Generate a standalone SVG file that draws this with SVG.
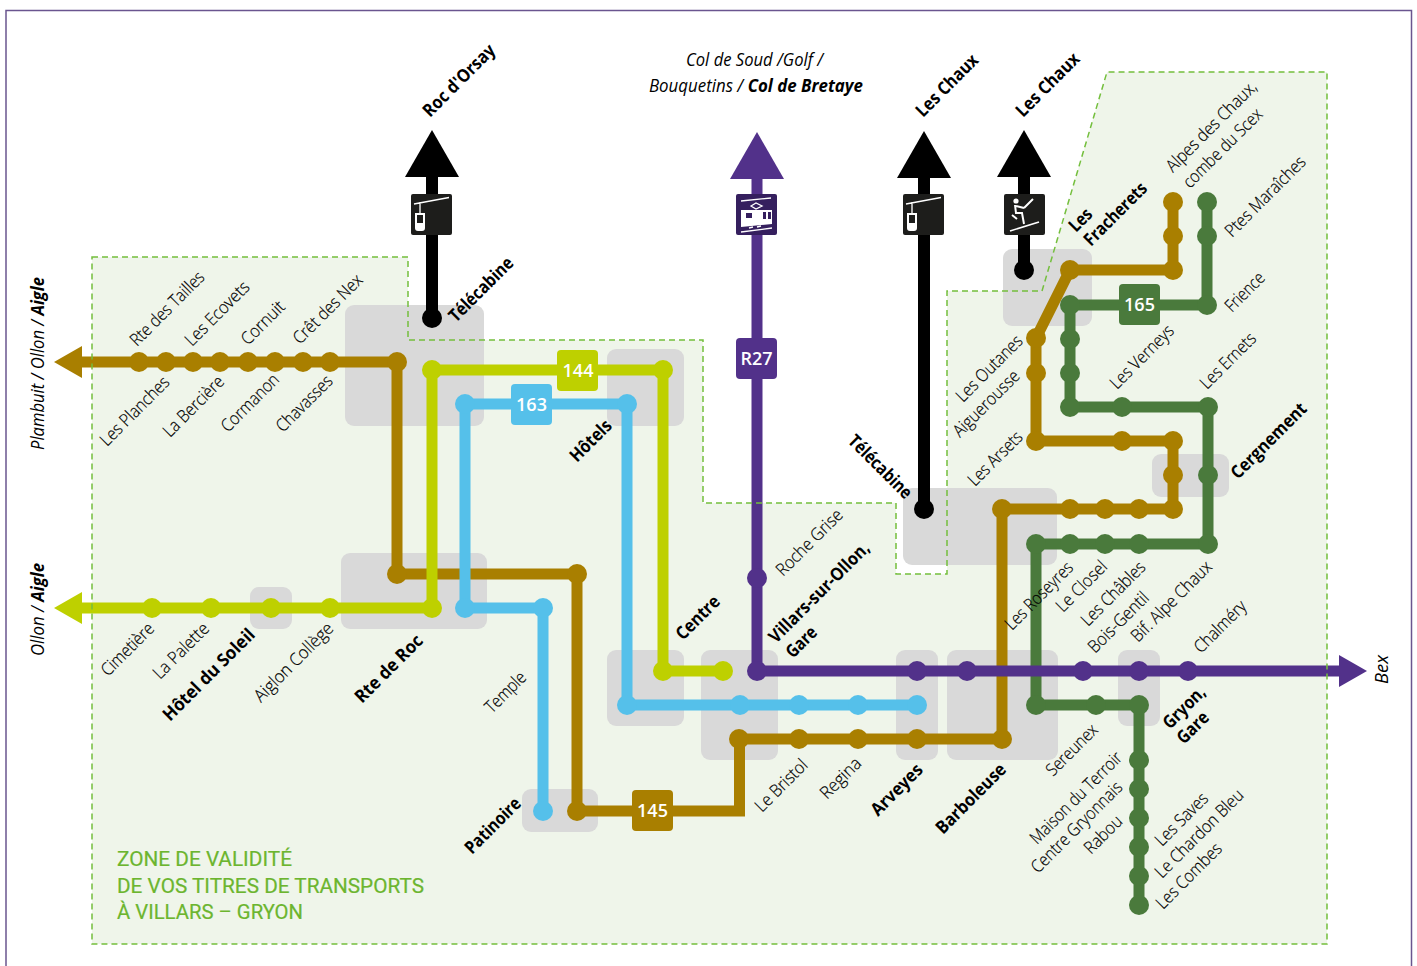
<svg xmlns="http://www.w3.org/2000/svg" width="1417" height="966" viewBox="0 0 1417 966">
<style>
text{font-family:"Open Sans","Noto Sans","Liberation Sans",sans-serif;fill:#000}
.l{font-size:17.500px;font-weight:300;stroke:#000;stroke-width:.2}
.b{font-size:18px;font-weight:700}
.i{font-size:18.500px;font-style:italic;font-weight:400}
.i tspan{font-weight:700}
.z{font-family:Roboto,"Open Sans",sans-serif;font-size:20px;fill:#6cb52f;font-weight:400;stroke:#6cb52f;stroke-width:.2}
.t{font-size:18px;font-weight:600;fill:#fff;text-anchor:middle}
.h{fill:#d9d9d9}
.ln{fill:none;stroke-width:11;stroke-linejoin:miter}
.br{stroke:#a97f00}.li{stroke:#bed000}.bl{stroke:#55c0ea}.pu{stroke:#52318a}.gr{stroke:#4a7a3c}
.bk{fill:none;stroke:#000;stroke-width:12}
circle{stroke:none}
.cb{fill:#a97f00}.cl{fill:#bed000}.cu{fill:#55c0ea}.cp{fill:#52318a}.cg{fill:#4a7a3c}.ck{fill:#000}
.w{fill:none;stroke:#fff;stroke-width:1.3}
.wf{fill:#fff}
</style>
<defs>
<marker id="a-br" viewBox="0 0 28 32" refX="0" refY="16" markerWidth="28" markerHeight="32" markerUnits="userSpaceOnUse" orient="auto"><path d="M0 0L28 16L0 32Z" fill="#a97f00"/></marker>
<marker id="a-li" viewBox="0 0 28 32" refX="0" refY="16" markerWidth="28" markerHeight="32" markerUnits="userSpaceOnUse" orient="auto"><path d="M0 0L28 16L0 32Z" fill="#bed000"/></marker>
<marker id="a-pu" viewBox="0 0 28 32" refX="0" refY="16" markerWidth="28" markerHeight="32" markerUnits="userSpaceOnUse" orient="auto"><path d="M0 0L28 16L0 32Z" fill="#52318a"/></marker>
<marker id="u-pu" viewBox="0 0 47 54" refX="0" refY="27" markerWidth="47" markerHeight="54" markerUnits="userSpaceOnUse" orient="auto"><path d="M0 0L47 27L0 54Z" fill="#52318a"/></marker>
<marker id="u-bk" viewBox="0 0 47 54" refX="0" refY="27" markerWidth="47" markerHeight="54" markerUnits="userSpaceOnUse" orient="auto"><path d="M0 0L47 27L0 54Z" fill="#000"/></marker>
<symbol id="cable" width="41" height="41" viewBox="0 0 41 41"><rect width="41" height="41" rx="2" fill="#1d1d1b"/><path class="w" d="M3 10L38 3.5M9 8V19"/><path class="wf" d="M4 19H14V34Q14 37 11 37H7Q4 37 4 34ZM6 21V29H12V21Z" fill-rule="evenodd"/></symbol>
</defs>
<rect x="6" y="10.500" width="1405.500" height="970" fill="#fff" stroke="#6a558f" stroke-width="1.500"/>
<g id="zone-fill"><path d="M92 257H408V340H703V503H896V574H947V291H1042L1107 72H1327V944H92Z" fill="#eff5ea"/></g>
<g id="hubs">
<rect class="h" x="345" y="305" width="139" height="121" rx="9"/>
<rect class="h" x="607" y="349" width="77" height="77" rx="9"/>
<rect class="h" x="341" y="553" width="146" height="76" rx="9"/>
<rect class="h" x="250" y="587" width="42" height="42" rx="9"/>
<rect class="h" x="607" y="650" width="77" height="76" rx="9"/>
<rect class="h" x="701" y="650" width="77" height="110" rx="9"/>
<rect class="h" x="896" y="650" width="42" height="110" rx="9"/>
<rect class="h" x="947" y="650" width="111" height="110" rx="9"/>
<rect class="h" x="1118" y="650" width="42" height="76" rx="9"/>
<rect class="h" x="522" y="789" width="76" height="43" rx="9"/>
<rect class="h" x="903" y="488" width="154" height="77" rx="9"/>
<rect class="h" x="1152" y="454" width="77" height="43" rx="9"/>
<rect class="h" x="1003" y="249" width="89" height="77" rx="9"/>
</g>
<g id="connectors">
<path class="ln br" d="M397 362H82" marker-end="url(#a-br)"/>
<path class="ln li" d="M432 608H82" marker-end="url(#a-li)"/>
<path class="bk" d="M432 318V177" marker-end="url(#u-bk)"/>
<path class="bk" d="M924 509V178" marker-end="url(#u-bk)"/>
<path class="bk" d="M1024 270V177" marker-end="url(#u-bk)"/>
<path class="ln br" d="M397 362V574H577V811H739.500V739H1002V509H1173V441H1036V338L1070 270H1173V202"/>
<path class="ln li" d="M432 608V370H663V671H723"/>
<path class="ln bl" d="M917 705H627V404H465V608H543V811"/>
<path class="ln gr" d="M1207 202V305H1070V407H1208V544H1036V705H1139V905"/>
<path class="ln pu" d="M757 671V179" marker-end="url(#u-pu)"/>
<path class="ln pu" d="M757 671H1339" marker-end="url(#a-pu)"/>
</g>
<g id="zone-outline"><path d="M92 257H408V340H703V503H896V574H947V291H1042L1107 72H1327V944H92Z" fill="none" stroke="#74bf3d" stroke-width="1.500" stroke-dasharray="6 4"/></g>
<g id="badges">
<g id="badge-144"><rect x="557" y="350" width="41" height="41" rx="4" fill="#bed000"/><text class="t" x="578" y="377">144</text></g>
<g id="badge-163"><rect x="511" y="384" width="41" height="41" rx="4" fill="#55c0ea"/><text class="t" x="531.500" y="411">163</text></g>
<g id="badge-145"><rect x="632" y="790" width="41" height="41" rx="4" fill="#a97f00"/><text class="t" x="652.500" y="817">145</text></g>
<g id="badge-165"><rect x="1119" y="284" width="41" height="41" rx="4" fill="#4a7a3c"/><text class="t" x="1139.500" y="311">165</text></g>
<g id="badge-R27"><rect x="736" y="338" width="41" height="41" rx="4" fill="#52318a"/><text class="t" x="756.500" y="365">R27</text></g>
<g id="icon-telecabine-1"><use href="#cable" x="411" y="194"/></g>
<g id="icon-telecabine-2"><use href="#cable" x="903" y="194"/></g>
<g id="icon-train"><rect x="736" y="194" width="41" height="41" rx="2" fill="#351f5e"/><path class="w" d="M741 201L771 198M751 206L756 203L762 206L756 209ZM741 232L772 228M749 228L753 227M757 227L761 226"/><path class="wf" d="M741 210H772V224L741 227ZM746 213V218H752V213ZM763 212V219H766V212ZM768 212V219H771V212Z" fill-rule="evenodd"/></g>
<g id="icon-ski"><rect x="1004" y="194" width="41" height="41" rx="2" fill="#1d1d1b"/><circle cx="1016" cy="201" r="2.600" fill="#fff"/><path d="M1015 205L1016 213L1022 213L1024 224M1016 206L1024 208M1024 208L1033 199M1012 215L1017 219" fill="none" stroke="#fff" stroke-width="2"/><path d="M1010 231L1039 222" fill="none" stroke="#fff" stroke-width="1.600"/></g>
</g>
<g id="stops-line-brown" class="cb">
<circle cx="139" cy="362" r="10"/><circle cx="166" cy="362" r="10"/><circle cx="193" cy="362" r="10"/><circle cx="220" cy="362" r="10"/><circle cx="248" cy="362" r="10"/><circle cx="275" cy="362" r="10"/><circle cx="303" cy="362" r="10"/><circle cx="330" cy="362" r="10"/>
<circle cx="397" cy="362" r="10"/><circle cx="397" cy="574" r="10"/><circle cx="577" cy="574" r="10"/><circle cx="577" cy="811" r="10"/><circle cx="739" cy="739" r="10"/><circle cx="799" cy="739" r="10"/><circle cx="858" cy="739" r="10"/><circle cx="917" cy="739" r="10"/><circle cx="1002" cy="739" r="10"/><circle cx="1002" cy="509" r="10"/><circle cx="1070" cy="509" r="10"/><circle cx="1105" cy="509" r="10"/><circle cx="1139" cy="509" r="10"/><circle cx="1173" cy="509" r="10"/><circle cx="1173" cy="475" r="10"/><circle cx="1173" cy="441" r="10"/><circle cx="1122" cy="441" r="10"/><circle cx="1036" cy="441" r="10"/><circle cx="1036" cy="373" r="10"/><circle cx="1036" cy="338" r="10"/><circle cx="1070" cy="270" r="10"/><circle cx="1173" cy="270" r="10"/><circle cx="1173" cy="236" r="10"/><circle cx="1173" cy="202" r="10"/>
</g>
<g id="stops-line-lime" class="cl">
<circle cx="152" cy="608" r="10"/><circle cx="211" cy="608" r="10"/><circle cx="271" cy="608" r="10"/><circle cx="330" cy="608" r="10"/><circle cx="432" cy="608" r="10"/><circle cx="432" cy="370" r="10"/><circle cx="663" cy="370" r="10"/><circle cx="663" cy="671" r="10"/><circle cx="723" cy="671" r="10"/>
</g>
<g id="stops-line-blue" class="cu">
<circle cx="465" cy="404" r="10"/><circle cx="627" cy="404" r="10"/><circle cx="627" cy="705" r="10"/><circle cx="740" cy="705" r="10"/><circle cx="799" cy="705" r="10"/><circle cx="858" cy="705" r="10"/><circle cx="917" cy="705" r="10"/><circle cx="465" cy="608" r="10"/><circle cx="543" cy="608" r="10"/><circle cx="543" cy="811" r="10"/>
</g>
<g id="stops-line-green" class="cg">
<circle cx="1207" cy="202" r="10"/><circle cx="1207" cy="236" r="10"/><circle cx="1207" cy="305" r="10"/><circle cx="1070" cy="305" r="10"/><circle cx="1070" cy="339" r="10"/><circle cx="1070" cy="373" r="10"/><circle cx="1070" cy="407" r="10"/><circle cx="1122" cy="407" r="10"/><circle cx="1208" cy="407" r="10"/><circle cx="1208" cy="475" r="10"/><circle cx="1208" cy="544" r="10"/><circle cx="1139" cy="544" r="10"/><circle cx="1105" cy="544" r="10"/><circle cx="1070" cy="544" r="10"/><circle cx="1036" cy="544" r="10"/><circle cx="1036" cy="705" r="10"/><circle cx="1096" cy="705" r="10"/><circle cx="1139" cy="705" r="10"/><circle cx="1139" cy="760" r="10"/><circle cx="1139" cy="789" r="10"/><circle cx="1139" cy="818" r="10"/><circle cx="1139" cy="847" r="10"/><circle cx="1139" cy="876" r="10"/><circle cx="1139" cy="905" r="10"/>
</g>
<g id="stops-line-purple" class="cp">
<circle cx="757" cy="578" r="10"/><circle cx="757" cy="671" r="10"/><circle cx="917" cy="671" r="10"/><circle cx="967" cy="671" r="10"/><circle cx="1083" cy="671" r="10"/><circle cx="1139" cy="671" r="10"/><circle cx="1188" cy="671" r="10"/>
</g>
<g id="stops-line-black" class="ck">
<circle cx="432" cy="318" r="10"/><circle cx="924" cy="509" r="10"/><circle cx="1024" cy="270" r="10"/>
</g>
<g id="labels">
<text class="l" lengthAdjust="spacingAndGlyphs" textLength="97" transform="translate(137 347) rotate(-45)">Rte des Tailles</text>
<text class="l" lengthAdjust="spacingAndGlyphs" textLength="83" transform="translate(192 347) rotate(-45)">Les Ecovets</text>
<text class="l" lengthAdjust="spacingAndGlyphs" textLength="54" transform="translate(248 346) rotate(-45)">Cornuit</text>
<text class="l" lengthAdjust="spacingAndGlyphs" textLength="90" transform="translate(300 345) rotate(-45)">Crêt des Nex</text>
<text class="l" lengthAdjust="spacingAndGlyphs" textLength="90" transform="translate(107 447) rotate(-45)">Les Planches</text>
<text class="l" lengthAdjust="spacingAndGlyphs" textLength="78" transform="translate(170 438) rotate(-45)">La Bercière</text>
<text class="l" lengthAdjust="spacingAndGlyphs" textLength="74" transform="translate(228 433) rotate(-45)">Cormanon</text>
<text class="l" lengthAdjust="spacingAndGlyphs" textLength="72" transform="translate(283 433) rotate(-45)">Chavasses</text>
<text class="i" lengthAdjust="spacingAndGlyphs" textLength="173" transform="translate(44 450) rotate(-90)">Plambuit / Ollon / <tspan>Aigle</tspan></text>
<text class="i" lengthAdjust="spacingAndGlyphs" textLength="93" transform="translate(44 656) rotate(-90)">Ollon / <tspan>Aigle</tspan></text>
<text class="i" lengthAdjust="spacingAndGlyphs" textLength="29" transform="translate(1388 684) rotate(-90)">Bex</text>
<text class="b" lengthAdjust="spacingAndGlyphs" textLength="94" transform="translate(430 118) rotate(-45)">Roc d'Orsay</text>
<text class="i" lengthAdjust="spacingAndGlyphs" textLength="137" x="686" y="66">Col de Soud /Golf /</text>
<text class="i" lengthAdjust="spacingAndGlyphs" textLength="214" x="649" y="92">Bouquetins / <tspan>Col de Bretaye</tspan></text>
<text class="b" lengthAdjust="spacingAndGlyphs" textLength="83" transform="translate(456 323) rotate(-45)">Télécabine</text>
<text class="b" lengthAdjust="spacingAndGlyphs" textLength="80" transform="translate(923 118) rotate(-45)">Les Chaux</text>
<text class="b" lengthAdjust="spacingAndGlyphs" textLength="82" transform="translate(1023 118) rotate(-45)">Les Chaux</text>
<text class="b" lengthAdjust="spacingAndGlyphs" textLength="25" transform="translate(1076 233) rotate(-45)">Les</text>
<text class="b" lengthAdjust="spacingAndGlyphs" textLength="81" transform="translate(1091 247) rotate(-45)">Fracherets</text>
<text class="l" lengthAdjust="spacingAndGlyphs" textLength="120" transform="translate(1173 173) rotate(-45)">Alpes des Chaux,</text>
<text class="l" lengthAdjust="spacingAndGlyphs" textLength="104" transform="translate(1190 189) rotate(-45)">combe du Scex</text>
<text class="l" lengthAdjust="spacingAndGlyphs" textLength="106" transform="translate(1232 238) rotate(-45)">Ptes Maraîches</text>
<text class="l" lengthAdjust="spacingAndGlyphs" textLength="48" transform="translate(1232 313) rotate(-45)">Frience</text>
<text class="l" lengthAdjust="spacingAndGlyphs" textLength="86" transform="translate(963 403) rotate(-45)">Les Outanes</text>
<text class="l" lengthAdjust="spacingAndGlyphs" textLength="86" transform="translate(960 438) rotate(-45)">Aiguerousse</text>
<text class="l" lengthAdjust="spacingAndGlyphs" textLength="69" transform="translate(975 487) rotate(-45)">Les Arsets</text>
<text class="l" lengthAdjust="spacingAndGlyphs" textLength="82" transform="translate(1117 390) rotate(-45)">Les Verneys</text>
<text class="l" lengthAdjust="spacingAndGlyphs" textLength="71" transform="translate(1207 390) rotate(-45)">Les Ernets</text>
<text class="b" lengthAdjust="spacingAndGlyphs" textLength="99" transform="translate(1238 480) rotate(-45)">Cergnement</text>
<text class="b" lengthAdjust="spacingAndGlyphs" textLength="82" transform="translate(847 442) rotate(45)">Télécabine</text>
<text class="l" lengthAdjust="spacingAndGlyphs" textLength="88" transform="translate(1012 631) rotate(-45)">Les Roseyres</text>
<text class="l" lengthAdjust="spacingAndGlyphs" textLength="64" transform="translate(1063 613) rotate(-45)">Le Closel</text>
<text class="l" lengthAdjust="spacingAndGlyphs" textLength="83" transform="translate(1088 627) rotate(-45)">Les Châbles</text>
<text class="l" lengthAdjust="spacingAndGlyphs" textLength="78" transform="translate(1095 654) rotate(-45)">Bois-Gentil</text>
<text class="l" lengthAdjust="spacingAndGlyphs" textLength="106" transform="translate(1138 643) rotate(-45)">Bif. Alpe Chaux</text>
<text class="l" lengthAdjust="spacingAndGlyphs" textLength="66" transform="translate(1201 654) rotate(-45)">Chalméry</text>
<text class="l" lengthAdjust="spacingAndGlyphs" textLength="86" transform="translate(783 577) rotate(-45)">Roche Grise</text>
<text class="b" lengthAdjust="spacingAndGlyphs" textLength="134" transform="translate(776 644) rotate(-45)">Villars-sur-Ollon,</text>
<text class="b" lengthAdjust="spacingAndGlyphs" textLength="36" transform="translate(793 659) rotate(-45)">Gare</text>
<text class="b" lengthAdjust="spacingAndGlyphs" textLength="54" transform="translate(683 641) rotate(-45)">Centre</text>
<text class="b" lengthAdjust="spacingAndGlyphs" textLength="51" transform="translate(577 463) rotate(-45)">Hôtels</text>
<text class="l" lengthAdjust="spacingAndGlyphs" textLength="50" transform="translate(492 714) rotate(-45)">Temple</text>
<text class="b" lengthAdjust="spacingAndGlyphs" textLength="71" transform="translate(472 855) rotate(-45)">Patinoire</text>
<text class="l" lengthAdjust="spacingAndGlyphs" textLength="66" transform="translate(762 813) rotate(-45)">Le Bristol</text>
<text class="l" lengthAdjust="spacingAndGlyphs" textLength="50" transform="translate(827 800) rotate(-45)">Regina</text>
<text class="b" lengthAdjust="spacingAndGlyphs" textLength="65" transform="translate(878 817) rotate(-45)">Arveyes</text>
<text class="b" lengthAdjust="spacingAndGlyphs" textLength="91" transform="translate(943 835) rotate(-45)">Barboleuse</text>
<text class="l" lengthAdjust="spacingAndGlyphs" textLength="65" transform="translate(1053 777) rotate(-45)">Sereunex</text>
<text class="l" lengthAdjust="spacingAndGlyphs" textLength="122" transform="translate(1037 845) rotate(-45)">Maison du Terroir</text>
<text class="l" lengthAdjust="spacingAndGlyphs" textLength="121" transform="translate(1038 874) rotate(-45)">Centre Gryonnais</text>
<text class="l" lengthAdjust="spacingAndGlyphs" textLength="46" transform="translate(1091 855) rotate(-45)">Rabou</text>
<text class="l" lengthAdjust="spacingAndGlyphs" textLength="67" transform="translate(1162 847) rotate(-45)">Les Saves</text>
<text class="l" lengthAdjust="spacingAndGlyphs" textLength="117" transform="translate(1162 879) rotate(-45)">Le Chardon Bleu</text>
<text class="l" lengthAdjust="spacingAndGlyphs" textLength="85" transform="translate(1163 910) rotate(-45)">Les Combes</text>
<text class="b" lengthAdjust="spacingAndGlyphs" textLength="52" transform="translate(1170 730) rotate(-45)">Gryon,</text>
<text class="b" lengthAdjust="spacingAndGlyphs" textLength="37" transform="translate(1184 745) rotate(-45)">Gare</text>
<text class="l" lengthAdjust="spacingAndGlyphs" textLength="67" transform="translate(108 677) rotate(-45)">Cimetière</text>
<text class="l" lengthAdjust="spacingAndGlyphs" textLength="71" transform="translate(160 680) rotate(-45)">La Palette</text>
<text class="b" lengthAdjust="spacingAndGlyphs" textLength="122" transform="translate(170 722) rotate(-45)">Hôtel du Soleil</text>
<text class="l" lengthAdjust="spacingAndGlyphs" textLength="104" transform="translate(261 703) rotate(-45)">Aiglon Collège</text>
<text class="b" lengthAdjust="spacingAndGlyphs" textLength="88" transform="translate(362 704) rotate(-45)">Rte de Roc</text>
<text class="z" lengthAdjust="spacingAndGlyphs" textLength="175" x="117" y="866">ZONE DE VALIDITÉ</text>
<text class="z" lengthAdjust="spacingAndGlyphs" textLength="307" x="117" y="893">DE VOS TITRES DE TRANSPORTS</text>
<text class="z" lengthAdjust="spacingAndGlyphs" textLength="186" x="117" y="919">À VILLARS – GRYON</text>
</g>
</svg>
